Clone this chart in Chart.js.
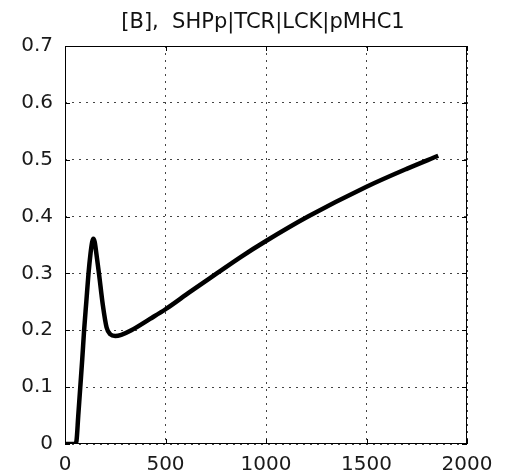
<!DOCTYPE html>
<html>
<head>
<meta charset="utf-8">
<script src="https://cdn.jsdelivr.net/npm/chart.js@4.4.1/dist/chart.umd.min.js"></script>
<style>
  body { margin: 0; background: #fff; }
  #wrap { width: 508px; height: 476px; }
</style>
</head>
<body>
<div id="wrap"><canvas id="grafico" width="508" height="476"></canvas></div>
<script>
// time points and response of SHPp|TCR|LCK|pMHC1
const tempo = [0, 50, 57, 66, 76, 86, 95, 106, 117, 127, 135, 141, 148, 156, 169, 188, 207, 225, 250, 280,
    330, 423, 500, 620, 755, 870, 1000, 1209, 1500, 1700, 1857];
const resposta = [0, 0, 0.005, 0.05, 0.1, 0.15, 0.2, 0.25, 0.3, 0.335, 0.355, 0.361, 0.355, 0.335, 0.3, 0.245,
    0.205, 0.193, 0.19, 0.192, 0.2, 0.22, 0.237, 0.267, 0.3, 0.328, 0.357, 0.4, 0.4525, 0.484, 0.507];

const xTicks = [0, 500, 1000, 1500, 2000];
const yTicks = [0, 0.1, 0.2, 0.3, 0.4, 0.5, 0.6, 0.7];

const fonte = "'DejaVu Sans', sans-serif";

// box around the plot with small inward tick marks on every side
const moldura = {
    id: 'moldura',
    afterDraw(chart) {
        const { ctx, chartArea: a, scales } = chart;
        ctx.save();
        ctx.strokeStyle = '#000';
        ctx.lineWidth = 1;
        ctx.strokeRect(a.left + 0.5, a.top + 0.5, a.right - a.left - 1, a.bottom - a.top - 1);
        ctx.beginPath();
        xTicks.forEach(v => {
            const px = Math.round(scales.x.getPixelForValue(v)) + 0.5;
            ctx.moveTo(px, a.bottom); ctx.lineTo(px, a.bottom - 5);
            ctx.moveTo(px, a.top); ctx.lineTo(px, a.top + 5);
        });
        yTicks.forEach(v => {
            const py = Math.round(scales.y.getPixelForValue(v)) + 0.5;
            ctx.moveTo(a.left, py); ctx.lineTo(a.left + 5, py);
            ctx.moveTo(a.right, py); ctx.lineTo(a.right - 5, py);
        });
        ctx.stroke();
        ctx.restore();
    }
};

new Chart(document.getElementById('grafico'), {
    type: 'line',
    data: {
        datasets: [{
            data: tempo.map((t, i) => ({ x: t, y: resposta[i] })),
            borderColor: '#000',
            borderWidth: 4.5,
            pointRadius: 0,
            cubicInterpolationMode: 'monotone',
            fill: false
        }]
    },
    options: {
        responsive: false,
        animation: false,
        layout: { padding: { left: 18, right: 0, top: 0, bottom: 0 } },
        plugins: {
            legend: { display: false },
            tooltip: { enabled: false },
            title: {
                display: true,
                text: '[B],  SHPp|TCR|LCK|pMHC1',
                color: '#111',
                font: { family: fonte, size: 21, weight: 'normal', lineHeight: 1.2 },
                padding: { top: 10, bottom: 10.8 }
            }
        },
        scales: {
            x: {
                type: 'linear',
                min: 0,
                max: 2000,
                afterBuildTicks: s => { s.ticks = xTicks.map(v => ({ value: v })); },
                afterFit: s => { s.height = 32; },
                grid: { color: '#444', lineWidth: 1, drawTicks: false },
                border: { display: false, dash: [2, 5] },
                ticks: {
                    color: '#1a1a1a',
                    padding: 9,
                    maxRotation: 0,
                    font: { family: fonte, size: 20 },
                    callback: v => String(v)
                }
            },
            y: {
                min: 0,
                max: 0.7,
                afterBuildTicks: s => { s.ticks = yTicks.map(v => ({ value: v })); },
                afterFit: s => { s.width = 47; },
                grid: { color: '#444', lineWidth: 1, drawTicks: false },
                border: { display: false, dash: [2, 5] },
                ticks: {
                    color: '#1a1a1a',
                    padding: 12,
                    font: { family: fonte, size: 20 },
                    callback: v => String(+v.toFixed(1))
                }
            },
            // empty right axis, only keeps the margin on that side
            direita: {
                position: 'right',
                min: 0,
                max: 0.7,
                afterFit: s => { s.width = 41; },
                grid: { display: false },
                border: { display: false },
                ticks: { display: false }
            }
        }
    },
    plugins: [moldura]
});
</script>
</body>
</html>
